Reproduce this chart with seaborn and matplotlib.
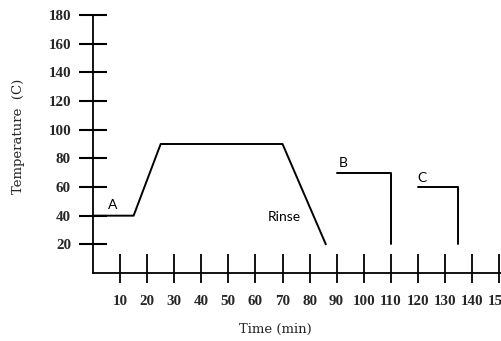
import matplotlib
matplotlib.use("Agg")
import matplotlib.pyplot as plt
import seaborn as sns
import pandas as pd
from matplotlib.ticker import FixedLocator

# ---- data ----
seg_a_time = [0, 15, 25, 70, 86]
seg_a_temp = [40, 40, 90, 90, 20]
seg_b_time = [90, 110, 110]
seg_b_temp = [70, 70, 20]
seg_c_time = [120, 135, 135]
seg_c_temp = [60, 60, 20]

x_ticks = [10, 20, 30, 40, 50, 60, 70, 80, 90, 100, 110, 120, 130, 140, 150]
y_ticks = [20, 40, 60, 80, 100, 120, 140, 160, 180]

labels = ["A", "B", "C", "Rinse"]
label_x = [7.2, 92.6, 121.7, 70.5]
label_y = [47.5, 77, 66.5, 39]

df = pd.concat([
    pd.DataFrame({"time": seg_a_time, "temp": seg_a_temp, "seg": "A"}),
    pd.DataFrame({"time": seg_b_time, "temp": seg_b_temp, "seg": "B"}),
    pd.DataFrame({"time": seg_c_time, "temp": seg_c_temp, "seg": "C"}),
], ignore_index=True)

sns.set_style("white")

fig = plt.figure(figsize=(5.01, 3.41), dpi=100)
ax = fig.add_axes([93 / 501, 68 / 341, 1 - 93 / 501, (273 - 15) / 341])

sns.lineplot(data=df, x="time", y="temp", units="seg", estimator=None,
             sort=False, color="black", linewidth=1.4, ax=ax)

ax.set_xlim(0, 150.7)
ax.set_ylim(0, 180)

for s in ["top", "right"]:
    ax.spines[s].set_visible(False)
for s in ["left", "bottom"]:
    ax.spines[s].set_color("black")
    ax.spines[s].set_linewidth(1.3)

tick_font = {"family": "Liberation Serif", "weight": "bold", "size": 10.8}

ax.set_yticks(y_ticks)
ax.set_yticklabels([str(v) for v in y_ticks], fontdict=tick_font)
ax.tick_params(axis="y", which="major", direction="inout", length=19.5,
               width=1.5, color="black", pad=6, left=True)

ax.set_xticks(x_ticks)
ax.set_xticklabels([str(v) for v in x_ticks], fontdict=tick_font)
ax.tick_params(axis="x", which="major", direction="in", length=13.5,
               width=1.3, color="black", pad=15.5, bottom=True)
ax.xaxis.remove_overlapping_locs = False
ax.xaxis.set_minor_locator(FixedLocator(x_ticks))
ax.tick_params(axis="x", which="minor", direction="out", length=7,
               width=1.3, color="black", bottom=True)

ax.set_xlabel("Time (min)", family="DejaVu Serif", fontsize=9.5, labelpad=11)
ax.set_ylabel("Temperature  (C)", family="DejaVu Serif", fontsize=9.5, labelpad=17)
ax.xaxis.label.set_x((275 - 93) / 408)
ax.yaxis.label.set_y((273 - 136) / 258)

for t, xv, yv in zip(labels, label_x, label_y):
    ax.text(xv, yv, t, family="Lato", fontsize=10, ha="center", va="center",
            color="black")

for lbl in ax.get_xticklabels() + ax.get_yticklabels():
    lbl.set_clip_on(False)

fig.savefig("out.png", dpi=100)
